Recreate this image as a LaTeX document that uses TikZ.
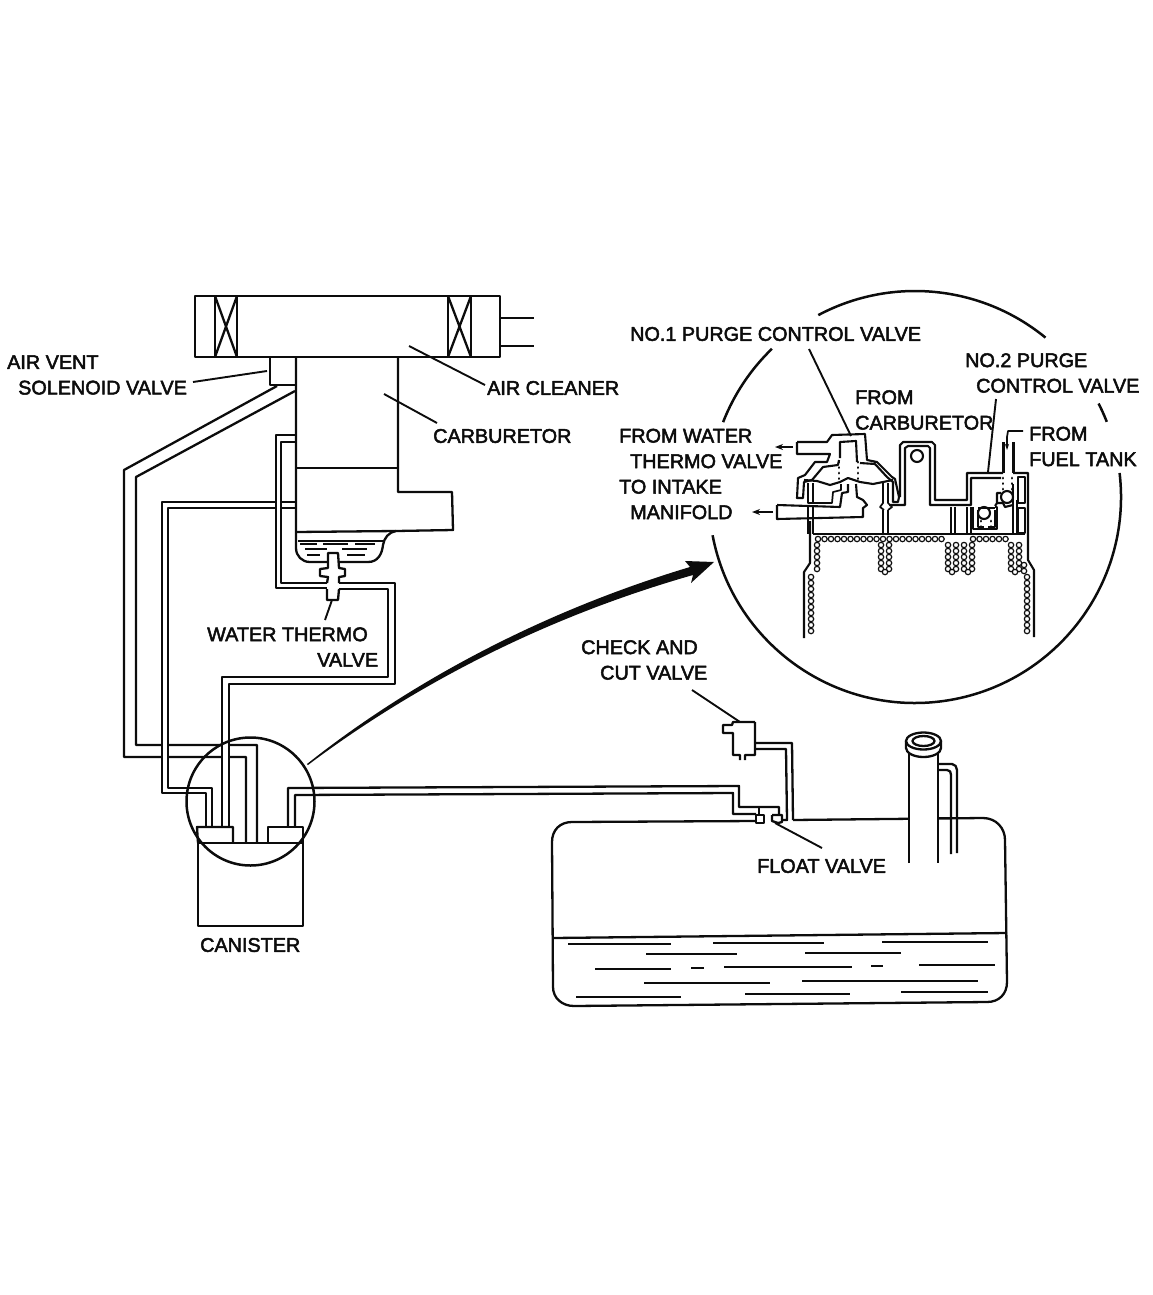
\documentclass[tikz,border=0pt]{standalone}
\usepackage{fontspec}
\setmainfont{Liberation Sans}
\newfontfamily\lblfont[FakeBold=2.5]{Liberation Sans}
\usepackage{tikz}
\usetikzlibrary{arrows.meta, calc}
\definecolor{ink}{HTML}{0C0C0C}
\begin{document}
\begin{tikzpicture}[
  x=1pt, y=-1pt,
  line join=round,
  lbl/.style={anchor=west, inner sep=0pt, align=left, text=ink,
              font=\lblfont\fontsize{19.8}{25.5}\selectfont},
  part/.style={draw=ink, line width=2.3pt},
  ring/.style={draw=ink, line width=2.5pt},
  leader/.style={draw=ink, line width=1.9pt},
  wall/.style={draw=ink, line width=2.1pt},
  tube/.style={draw=ink, line width=1.7pt},
  bead/.style={draw=ink, line width=1.2pt, fill=white},
  seep/.style={draw=ink, line width=1.5pt},
  spots/.style={draw=ink, line width=2.8pt, line cap=round, dash pattern=on 0.2pt off 5.3pt},
  flowarrow/.style={draw=ink, line width=1.8pt, -{Stealth[length=8pt, width=6pt]}}
]
  \path[use as bounding box] (0,0) rectangle (1152,1295);

  \node[lbl] (ventlbl) at (7,375) {AIR VENT\\\hspace*{11pt}SOLENOID VALVE};
  \node[lbl] (cleanerlbl) at (487,388) {AIR CLEANER};
  \node[lbl] (carblbl) at (433,436) {CARBURETOR};
  \node[lbl] (thermolbl) at (207,647) {WATER THERMO\\\hspace*{110pt}VALVE};
  \node[lbl] (canisterlbl) at (200,945) {CANISTER};
  \node[lbl] (checklbl) at (581,660) {CHECK AND\\\hspace*{19pt}CUT VALVE};
  \node[lbl] (floatlbl) at (757,866) {FLOAT VALVE};
  \node[lbl] (purgeonelbl) at (630,334) {NO.1 PURGE CONTROL VALVE};
  \node[lbl] (purgetwolbl) at (965,373) {NO.2 PURGE\\\hspace*{11pt}CONTROL VALVE};
  \node[lbl] (fromcarblbl) at (855,410) {FROM\\CARBURETOR};
  \node[lbl] (fromwaterlbl) at (619,448.5) {FROM WATER\\\hspace*{11pt}THERMO VALVE};
  \node[lbl] (intakelbl) at (619,499.5) {TO INTAKE\\\hspace*{11pt}MANIFOLD};
  \node[lbl] (fueltanklbl) at (1029,446.5) {FROM\\FUEL TANK};

  \coordinate (inset) at (915,497);
  \coordinate (detail) at (250.5,801.5);

  % air cleaner
  \draw[part] (195,296) rectangle (500,357);
  \draw[part] (215,296) rectangle (237,357);
  \draw[part] (215,296) -- (237,357) (237,296) -- (215,357);
  \draw[part] (448,296) rectangle (471,357);
  \draw[part] (448,296) -- (471,357) (471,296) -- (448,357);
  \draw[part] (500,318) -- (534,318) (500,346) -- (534,346);

  % carburetor and bowl
  \draw[part] (270,357) -- (270,385) -- (296,385);
  \draw[part] (296,357) -- (296,548) .. controls (296,556) and (302,562) .. (310,562) -- (328,562);
  \draw[part] (338,562) -- (368,562) .. controls (378,562) and (382,554) .. (383,545)
    .. controls (384,538) and (389,532) .. (396,531) -- (453,530) -- (452,492) -- (398,492) -- (398,357);
  \draw[part] (296,532) -- (396,531);
  \draw[part] (296,468) -- (398,468);
  \draw[tube] (298,541) -- (383,541);
  \foreach \xa/\xb/\yy in {300/317/544, 323/348/544, 355/375/544, 305/327/549, 342/367/549, 307/320/555, 347/365/555}
    \draw[tube] (\xa,\yy) -- (\xb,\yy);

  % water thermo valve
  \draw[part] (327,583) -- (328,577) -- (320,576) -- (320,569) -- (328,568) -- (328,553) -- (338,553) -- (339,568)
    -- (345,569) -- (345,576) -- (339,577) -- (339,583);
  \draw[part] (327,589) -- (327,600) -- (338,600) -- (339,589);
  \draw[leader] (332,600) -- (325,620);
  \draw[part] (327,588) -- (276,588) -- (276,435) -- (296,435);
  \draw[part] (327,583) -- (281,583) -- (281,442) -- (296,442);
  \draw[part] (339,583) -- (395,583) -- (395,684) -- (229,684) -- (229,827);
  \draw[part] (339,589) -- (388,589) -- (388,677) -- (222,677) -- (222,827);

  % vent pipe
  \draw[part] (277,386) -- (124,470) -- (124,757) -- (162,757) (168,757) -- (222,757) (229,757) -- (246,757) -- (246,843);
  \draw[part] (295,391) -- (136,477) -- (136,745) -- (162,745) (168,745) -- (222,745) (229,745) -- (257,745) -- (257,843);

  % bowl vent pipe
  \draw[part] (296,502) -- (281,502) (276,502) -- (162,502) -- (162,793) -- (206,793) -- (206,827);
  \draw[part] (296,508) -- (281,508) (276,508) -- (168,508) -- (168,788) -- (212,788) -- (212,827);

  % canister
  \draw[part] (198,843) rectangle (303,926);
  \draw[part] (198,843) -- (197,827) -- (233,827) -- (233,843);
  \draw[part] (268,843) -- (268,827) -- (303,827) -- (303,843);
  \draw[ring] (detail) circle[radius=64];

  % canister to tank
  \draw[part] (288,827) -- (288,788) -- (739,786) -- (739,807) -- (779,807) -- (779,815);
  \draw[part] (295,827) -- (295,795) -- (733,793) -- (733,814) -- (756,814);
  \draw[part] (759,807) -- (759,815);
  \draw[part] (756,815) rectangle (764,823);
  \draw[part] (772,815) -- (772,821) -- (778,823) -- (782,822) -- (782,815) -- (772,815);
  \draw[leader] (775,823) -- (822,848);

  % check and cut valve
  \draw[part] (755,722) -- (733,722) -- (732,725) -- (723,725) -- (723,733) -- (733,733) -- (733,755)
    -- (740,755) -- (740,760) (745,760) -- (745,755) -- (755,755) -- (755,722);
  \draw[leader] (692,690) -- (740,722);
  \draw[part] (755,743) -- (792,743) -- (793,820);
  \draw[part] (755,749) -- (786,749) -- (787,820) -- (782,820);

  % fuel tank
  \draw[part] (756,821) -- (572,822) .. controls (560,822) and (552,830) .. (552,842) -- (553,987)
    .. controls (553,998) and (562,1006) .. (574,1006) -- (987,1002) .. controls (999,1002) and (1007,994) .. (1007,982)
    -- (1005,840) .. controls (1005,828) and (996,818) .. (983,818) -- (793,820);
  \draw[part] (553,938) -- (1007,933);
  \foreach \xa/\xb/\yy in {568/671/944, 713/824/943, 882/988/942, 646/737/954, 805/901/953, 595/671/969, 691/704/968,
      724/852/967, 871/883/966, 919/995/965, 644/770/983, 802/978/981, 576/681/997, 745/850/994, 901/988/992}
    \draw[seep] (\xa,\yy) -- (\xb,\yy);

  % filler neck
  \draw[part, fill=white] (909,863) -- (909,750) -- (938,750) -- (938,863);
  \draw[part, fill=white] (906,741) -- (906,748) arc[x radius=17.5, y radius=9, start angle=180, end angle=0] -- (941,741);
  \draw[part, fill=white] (923.5,741) ellipse[x radius=17.5, y radius=8.5];
  \draw[part] (923.5,741) ellipse[x radius=11, y radius=5];
  \draw[part] (938,764) -- (952,764) .. controls (955,764) and (957,767) .. (957,770) -- (957,853);
  \draw[part] (938,770) -- (947,770) .. controls (950,770) and (951,772) .. (951,775) -- (951,854);
  \draw[part] (938,818) -- (958,818);

  % transfer arrow
  \fill[ink] (307,764) .. controls (400,690) and (530,615) .. (690,567) -- (685,561) -- (714,562) -- (691,583) -- (693,575)
    .. controls (535,620) and (405,692) .. (308,765) -- cycle;

  % inset ring
  \draw[ring] (inset) ++(-118:206) arc[start angle=-118, end angle=-50.7, radius=206];
  \draw[ring] (inset) ++(-134:206) arc[start angle=-134, end angle=-158.7, radius=206];
  \draw[ring] (inset) ++(-27:206) arc[start angle=-27, end angle=-21.4, radius=206];
  \draw[ring] (inset) ++(-6.7:206) arc[start angle=-6.7, end angle=169.3, radius=206];

  % leaders
  \draw[leader] (193,382) -- (267,371);
  \draw[leader] (409,346) -- (485,385);
  \draw[leader] (384,394) -- (437,423);
  \draw[leader] (809,349) -- (851,436);
  \draw[leader] (996,399) -- (988,472);

  % no.1 valve
  \draw[wall] (797,442) -- (827,442) -- (832,435) -- (865,434) -- (867,460) -- (877,462) -- (892,477) -- (895,479) -- (899,497) -- (898,502) -- (893,502) -- (893,482) -- (887,477) -- (875,464) -- (860,463);
  \draw[wall] (797,442) -- (797,454) -- (830,454) -- (827,462) -- (815,462) -- (805,475) -- (798,478) -- (797,498) -- (803,498) -- (804,482) -- (812,480) -- (823,467) -- (838,465) -- (839,460);
  \draw[wall] (840,458) -- (840,442) -- (856,441) -- (857,462);
  \draw[wall] (804,480) -- (817,481) -- (830,485) -- (840,482) -- (848,478) -- (860,482) -- (873,484) -- (893,480);
  \draw[spots] (839,462) -- (839,480);
  \draw[spots] (858,462) -- (858,480);
  \draw[tube] (808,483) -- (808,503) -- (832,503) -- (833,492) -- (841,490) -- (841,484);
  \draw[tube] (813,483) -- (813,503);
  \draw[wall] (777,505) -- (840,507) -- (842,493) -- (848,492) -- (848,484);
  \draw[wall] (777,505) -- (777,519) -- (863,517) -- (863,508) -- (867,505) -- (863,500) -- (857,497) -- (856,484);
  \draw[flowarrow] (793,447) -- (775,447);
  \draw[flowarrow] (773,512) -- (752,512);

  % body
  \draw[wall] (810,521) -- (810,563) -- (804,572) -- (804,638);
  \draw[wall] (813,521) -- (813,534);
  \draw[wall] (813,534) -- (1025,534);
  \draw[wall] (900,497) -- (900,445) -- (903,442) -- (932,442) -- (935,445) -- (935,500) -- (967,500) -- (967,473) -- (1003,473);
  \draw[wall] (889,505) -- (905,505) -- (905,448) -- (908,446) -- (928,446) -- (930,448) -- (930,505) -- (971,505) -- (971,478) -- (1001,478);
  \draw[wall] (917,456) circle[radius=6];
  \draw[wall] (1013,473) -- (1028,473) -- (1028,560) -- (1034,570) -- (1034,637);
  \draw[tube] (1018,477) rectangle (1025,503);
  \draw[tube] (1018,508) rectangle (1025,533);
  \draw[line width=3pt, draw=ink] (1003,442) -- (1003,473);
  \draw[line width=3pt, draw=ink] (1013,442) -- (1013,473);
  \draw[tube] (1023,431) -- (1008,431) -- (1007,437);
  \draw[tube, -{Stealth[length=6pt, width=4pt]}] (1007,437) -- (1007,450);

  % no.2 valve
  \draw[wall] (1007,497) circle[radius=6];
  \draw[wall] (984,513) circle[radius=6];
  \draw[wall] (973,507) -- (973,529) -- (997,529) -- (997,507) -- (995,507);
  \draw[tube] (978,510) -- (978,527) -- (984,527) (988,527) -- (995,527) -- (995,510);
  \draw[tube] (978,508) -- (995,508);
  \draw[wall] (995,506) -- (997,503) -- (997,493) -- (1001,493);
  \draw[wall] (997,503) -- (1003,503) -- (1005,507) -- (1013,505);
  \draw[wall] (1013,503) -- (1013,484);
  \draw[spots] (1003,478) -- (1003,490);
  \draw[spots] (1012,478) -- (1012,490);
  \draw[spots] (981,521) -- (981,527);
  \draw[spots] (991,521) -- (991,527);

  % coil tubes
  \foreach \xa/\xb/\ya in {808/813/507, 883/888/510, 951/955/507, 967/971/507, 1013/1017/500}
    \draw[tube] (\xa,\ya) -- (\xa,534) (\xb,\ya) -- (\xb,534);
  \draw[tube] (883,483) -- (883,503) -- (880,507) -- (884,510);
  \draw[tube] (888,483) -- (888,503) -- (892,507) -- (888,510);

  % coil beads
  \foreach \xc in {818,824.5,...,943} \draw[bead] (\xc,539) circle[radius=2.7];
  \foreach \xc in {973,979.5,...,1008} \draw[bead] (\xc,539) circle[radius=2.7];
  \foreach \yc in {545,551,...,570} {
    \draw[bead] (817,\yc) circle[radius=2.7];
    \draw[bead] (881,\yc) circle[radius=2.7];
    \draw[bead] (889,\yc) circle[radius=2.7];
    \draw[bead] (948,\yc) circle[radius=2.7];
    \draw[bead] (956,\yc) circle[radius=2.7];
    \draw[bead] (964,\yc) circle[radius=2.7];
    \draw[bead] (972,\yc) circle[radius=2.7];
    \draw[bead] (1011,\yc) circle[radius=2.7];
    \draw[bead] (1019,\yc) circle[radius=2.7];
  }
  \foreach \xc in {885,952,968,1015} \draw[bead] (\xc,572) circle[radius=2.7];
  \foreach \yc in {577,583,...,636} {
    \draw[bead] (811,\yc) circle[radius=2.7];
    \draw[bead] (1027,\yc) circle[radius=2.7];
  }
  \draw[bead] (1024,565) circle[radius=2.7];
  \draw[bead] (1024,571) circle[radius=2.7];
\end{tikzpicture}
\end{document}
